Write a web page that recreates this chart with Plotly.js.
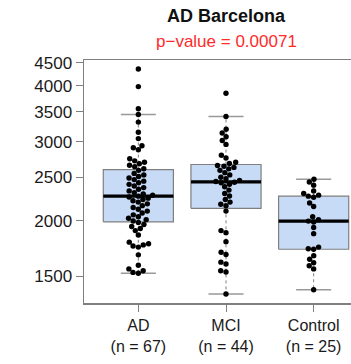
<!DOCTYPE html>
<html>
<head>
<meta charset="utf-8">
<script src="https://cdn.plot.ly/plotly-3.0.1.min.js"></script>
<style>
  html, body { margin: 0; padding: 0; overflow: hidden; background: #fff; }
  #chart { width: 368px; height: 364px; }
</style>
</head>
<body>
<div id="chart"></div>
<script>
// Groups and their measured values
const categories = ['AD', 'MCI', 'Control'];

const adValues = [
  1526, 1532, 1545, 1560, 1590, 1677, 1745, 1755, 1765, 1775, 1790, 1857,
  1900, 1920, 1940, 1960, 1980, 1996, 2010, 2025, 2040, 2060, 2080, 2100,
  2120, 2140, 2160, 2180, 2200, 2215, 2230, 2245, 2258, 2268, 2280, 2295,
  2310, 2330, 2350, 2370, 2390, 2410, 2430, 2450, 2470, 2490, 2510, 2530,
  2550, 2590, 2612, 2640, 2660, 2680, 2700, 2720, 2750, 2880, 2910, 2940,
  3050, 3150, 3320, 3452, 3555, 3985, 4363
];

const mciValues = [
  1371, 1535, 1545, 1600, 1615, 1680, 1700, 1795, 1880, 1900, 2100, 2160,
  2175, 2200, 2230, 2270, 2300, 2340, 2380, 2410, 2430, 2436, 2446, 2460,
  2480, 2500, 2530, 2560, 2590, 2610, 2630, 2645, 2655, 2683, 2700, 2760,
  2800, 2960, 3020, 3080, 3140, 3200, 3418, 3851
];

const controlValues = [
  1401, 1560, 1585, 1610, 1640, 1670, 1726, 1730, 1745, 1870, 1930, 1985,
  1995, 2010, 2040, 2150, 2190, 2255, 2268, 2280, 2300, 2330, 2400, 2440,
  2475
];

const titleText = 'AD Barcelona';
const pValueText = 'p\u2212value = 0.00071';
const yTickValues = [1500, 2000, 2500, 3000, 3500, 4000, 4500];
const yTickLabels = ['1500', '2000', '2500', '3000', '3500', '4000', '4500'];

const groups = [adValues, mciValues, controlValues];

// Plot geometry
const W = 368, H = 364;
const margin = { l: 84, r: 0, t: 60, b: 61 };
const plotW = W - margin.l - margin.r;
const plotH = H - margin.t - margin.b;
const xRange = [0.38, 3.62];

const allVals = groups.flat();
const logLo = Math.log10(Math.min(...allVals));
const logHi = Math.log10(Math.max(...allVals));
const pad = 0.04 * (logHi - logLo);
const yRange = [logLo - pad, logHi + pad];

const pxPerX = plotW / (xRange[1] - xRange[0]);
const pxPerDecade = plotH / (yRange[1] - yRange[0]);
const yToPx = v => Math.log10(v) * pxPerDecade;

// Tukey five-number summary
function fivenum(v) {
  const s = [...v].sort((a, b) => a - b), n = s.length;
  const n4 = Math.floor((n + 3) / 2) / 2;
  const d = [1, n4, (n + 1) / 2, n + 1 - n4, n];
  return d.map(i => 0.5 * (s[Math.floor(i) - 1] + s[Math.ceil(i) - 1]));
}

function boxStats(v) {
  const s = [...v].sort((a, b) => a - b);
  const f = fivenum(s);
  const iqr = f[3] - f[1];
  const hiFence = f[3] + 1.5 * iqr, loFence = f[1] - 1.5 * iqr;
  const upper = Math.max(...s.filter(x => x <= hiFence));
  const lower = Math.min(...s.filter(x => x >= loFence));
  return { q1: f[1], med: f[2], q3: f[3], upper, lower };
}

// Swarm layout: place points in ascending order as close to the centre as possible
function swarm(vals, d) {
  const order = vals.map((v, i) => i).sort((a, b) => vals[a] - vals[b]);
  const placed = [];
  const xs = new Array(vals.length);
  for (const i of order) {
    const y = yToPx(vals[i]);
    const near = placed.filter(p => Math.abs(p.y - y) < d);
    const cands = [0];
    near.forEach(p => {
      const dx = Math.sqrt(d * d - (p.y - y) ** 2);
      cands.push(p.x + dx, p.x - dx);
    });
    cands.sort((a, b) => Math.abs(a) - Math.abs(b) || a - b);
    let best = 0;
    for (const c of cands) {
      if (near.every(p => (p.x - c) ** 2 + (p.y - y) ** 2 >= d * d - 1e-6)) { best = c; break; }
    }
    placed.push({ x: best, y });
    xs[i] = best;
  }
  return xs;
}

const boxFill = '#c7dbf6';
const grey = '#7f7f7f';
const halfBox = 0.4, halfStaple = 0.2;
const traces = [];

groups.forEach((vals, gi) => {
  const c = gi + 1;
  const st = boxStats(vals);
  traces.push({
    type: 'scatter', mode: 'lines',
    x: [c - halfBox, c + halfBox, c + halfBox, c - halfBox, c - halfBox],
    y: [st.q1, st.q1, st.q3, st.q3, st.q1],
    fill: 'toself', fillcolor: boxFill,
    line: { color: grey, width: 1.2 }
  });
  traces.push({
    type: 'scatter', mode: 'lines',
    x: [c, c, null, c, c],
    y: [st.q3, st.upper, null, st.q1, st.lower],
    line: { color: grey, width: 1, dash: '3px,3px' }
  });
  traces.push({
    type: 'scatter', mode: 'lines',
    x: [c - halfStaple, c + halfStaple, null, c - halfStaple, c + halfStaple],
    y: [st.upper, st.upper, null, st.lower, st.lower],
    line: { color: '#999999', width: 1.5 }
  });
  traces.push({
    type: 'scatter', mode: 'lines',
    x: [c - halfBox, c + halfBox],
    y: [st.med, st.med],
    line: { color: '#000000', width: 3.2 }
  });
});

groups.forEach((vals, gi) => {
  const offs = swarm(vals, 5.4);
  traces.push({
    type: 'scatter', mode: 'markers',
    x: offs.map(o => gi + 1 + o / pxPerX),
    y: vals,
    marker: { color: '#000000', size: 5.4, line: { width: 0 } }
  });
});

const fontFamily = '"Liberation Sans", Arial, Helvetica, sans-serif';

const layout = {
  width: W, height: H,
  margin: margin,
  showlegend: false,
  paper_bgcolor: '#ffffff', plot_bgcolor: '#ffffff',
  font: { family: fontFamily, color: '#1a1a1a' },
  xaxis: {
    range: xRange, showgrid: false, zeroline: false,
    tickmode: 'array', tickvals: categories.map((_, i) => i + 1),
    ticktext: categories.map((c, i) => c + '<br>(n = ' + groups[i].length + ')'),
    ticks: 'outside', ticklen: 7, tickwidth: 1, tickcolor: grey,
    showline: true, linecolor: grey, linewidth: 1.5, mirror: true,
    tickfont: { size: 16, family: fontFamily, color: '#1a1a1a' }
  },
  yaxis: {
    type: 'log', range: yRange, showgrid: false, zeroline: false,
    tickmode: 'array', tickvals: yTickValues, ticktext: yTickLabels,
    ticks: 'outside', ticklen: 7, tickwidth: 1, tickcolor: grey,
    showline: true, linecolor: grey, linewidth: 1.5, mirror: true,
    tickfont: { size: 17, family: fontFamily, color: '#1a1a1a' }
  },
  annotations: [
    {
      text: '<b>' + titleText + '</b>', xref: 'paper', yref: 'paper',
      x: 0.5, y: (H - margin.b - 16) / plotH, xanchor: 'center', yanchor: 'middle',
      showarrow: false, font: { size: 18, family: fontFamily, color: '#111111' }
    },
    {
      text: pValueText, xref: 'paper', yref: 'paper',
      x: 0.5, y: (H - margin.b - 42) / plotH, xanchor: 'center', yanchor: 'middle',
      showarrow: false, font: { size: 17, family: fontFamily, color: '#ff2a2a' }
    }
  ]
};

Plotly.newPlot('chart', traces, layout, { staticPlot: true, displayModeBar: false });
</script>
</body>
</html>
